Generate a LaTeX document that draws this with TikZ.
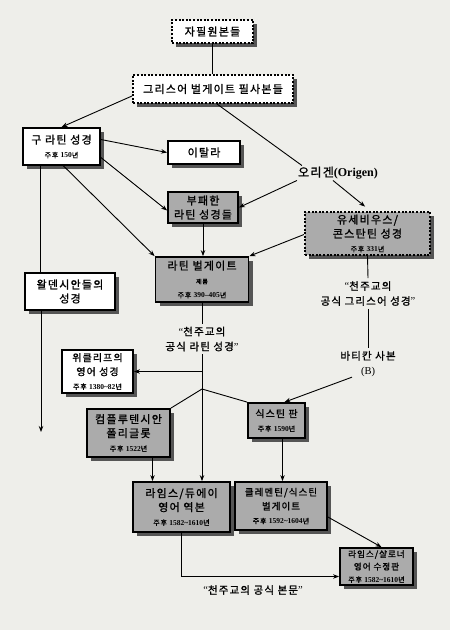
\documentclass[tikz,border=0pt]{standalone}
\usepackage{fontspec}
\setmainfont{Liberation Serif}
\newfontfamily\kr[LetterSpace=11,FakeBold=1.2]{Noto Sans CJK KR}
\usepackage{tikz}
\usetikzlibrary{arrows.meta,shadows,calc}
\definecolor{paper}{HTML}{EEEEEA}
\definecolor{boxg}{HTML}{ABABAB}
\definecolor{shd}{HTML}{555555}
\newcommand{\yr}[1]{{\fontsize{7}{8}\selectfont 주후 {\rmfamily\bfseries\fontsize{7.5}{8}\selectfont #1}년}}
\newcommand{\lqt}{{\rmfamily “}}
\newcommand{\rqt}{{\rmfamily ”}}

\begin{document}
\begin{tikzpicture}[x=1pt,y=-1pt,
  font=\kr\fontsize{11}{14}\selectfont,
  bx/.style={draw,line width=1.8pt,align=center,inner sep=1pt,
    drop shadow={shadow xshift=4pt,shadow yshift=-4pt,fill=shd,opacity=1}},
  wbox/.style={bx,fill=white},
  gbox/.style={bx,fill=boxg},
  dwbox/.style={wbox,dash pattern=on 2pt off 1.6pt,line width=2pt},
  dgbox/.style={gbox,dash pattern=on 2pt off 1.6pt,line width=2pt},
  qtext/.style={align=center,inner sep=3pt,font=\kr\fontsize{10.5}{15}\selectfont},
  ln/.style={line width=0.9pt},
  arr/.style={ln,-{Stealth[length=6pt,width=4.5pt]}}]
\fill[paper] (0,0) rectangle (450,630);
\useasboundingbox (0,0) rectangle (450,630);
% sources
\node[dwbox,minimum width=81pt,minimum height=23pt] (autog) at (212.5,31.5) {자필원본들};
\node[dwbox,minimum width=160pt,minimum height=28pt] (grcopy) at (213,89) {그리스어 벌게이트 필사본들};
\node[wbox,minimum width=77pt,minimum height=37pt] (oldlat) at (61.5,146.5) {구 라틴 성경\\\yr{150}};
\node[wbox,minimum width=72pt,minimum height=23pt] (itala) at (204,152.5) {이탈라};
\node[inner sep=1pt,font=\kr\fontsize{12}{14}\selectfont] (origen) at (338,173) {오리겐{\rmfamily\bfseries(Origen)}};
\node[gbox,minimum width=70pt,minimum height=31pt] (corrupt) at (203,207.5) {부패한\\라틴 성경들};
\node[dgbox,minimum width=125pt,minimum height=43pt] (euseb) at (367.5,233.5) {유세비우스/\\콘스탄틴 성경\\\yr{331}};
\node[gbox,minimum width=93pt,minimum height=45pt] (latvul) at (202,279.5) {라틴 벌게이트\\{\fontsize{6}{7}\selectfont 제롬}\\\yr{390–405}};
\node[wbox,minimum width=90pt,minimum height=37pt] (walden) at (70,291.5) {왈덴시안들의\\성경};
% official texts
\node[qtext] (catlat) at (202,339) {\lqt 천주교의\\공식 라틴 성경\rqt};
\node[qtext] (catgr) at (368,293.5) {\lqt 천주교의\\공식 그리스어 성경\rqt};
\node[qtext] (vatican) at (368,364) {바티칸 사본\\{\rmfamily (B)}};
% later editions
\node[wbox,minimum width=71pt,minimum height=43pt,font=\kr\fontsize{10}{14}\selectfont] (wycl) at (97.5,371.5) {위클리프의\\영어 성경\\\yr{1380\textasciitilde82}};
\node[gbox,minimum width=57pt,minimum height=35pt,font=\kr\fontsize{10}{14}\selectfont] (sixt) at (276.5,420.5) {식스틴 판\\\yr{1590}};
\node[gbox,minimum width=83pt,minimum height=48pt] (complut) at (128.5,433) {컴플루텐시안\\폴리글롯\\\yr{1522}};
\node[gbox,minimum width=97pt,minimum height=50pt] (rheims) at (181.5,507) {라임스/듀에이\\영어 역본\\\yr{1582\textasciitilde1610}};
\node[gbox,minimum width=92pt,minimum height=48pt,font=\kr\fontsize{9.5}{14}\selectfont] (clem) at (281,506) {클레멘틴/식스틴\\벌게이트\\\yr{1592\textasciitilde1604}};
\node[gbox,minimum width=73pt,minimum height=37pt,font=\kr\fontsize{8.6}{12.5}\selectfont] (chall) at (376.5,566.5) {라임스/샬로너\\영어 수정판\\\yr{1582\textasciitilde1610}};
\node[qtext] (offtxt) at (253,590) {\lqt 천주교의 공식 본문\rqt};
% connectors
\draw[ln] (autog.south) -- (autog.south |- grcopy.north);
\draw[arr] ([yshift=-7pt]grcopy.west) -- (oldlat.north);
\draw[ln] ([xshift=4pt]grcopy.south) -- ([xshift=5pt]origen.north west);
\draw[arr] ([yshift=7pt]oldlat.east) -- (itala.west);
\draw[arr] ([yshift=-11pt]oldlat.east) -- ([yshift=-3pt]corrupt.west);
\draw[arr] (origen.south west) -- (corrupt.east);
\draw[arr,shorten >=7pt] ([xshift=-5pt]origen.south) -- ([xshift=3pt]euseb.north);
\draw[arr] (corrupt.south) -- (corrupt.south |- latvul.north);
\draw[arr] ([xshift=2pt]oldlat.south) -- (latvul.north west);
\draw[arr] ([yshift=-1pt]euseb.west) -- (latvul.north east);
\draw[ln] ([xshift=-21pt]oldlat.south) -- ([xshift=-21pt]oldlat.south |- walden.north);
\coordinate (waldend) at (41,432);
\draw[arr] (walden.south -| waldend) -- (waldend);
\draw[ln] (latvul.south) -- (catlat.north);
\coordinate (fork) at (202,389);
\draw[ln] (catlat.south) -- (fork);
\draw[arr] (catlat.south |- wycl.east) -- (wycl.east);
\draw[ln] (fork) -- (complut.north east);
\draw[ln] (fork) -- (sixt.north west);
\draw[arr] (fork) -- (fork |- rheims.north);
\draw[ln] (euseb.south) -- (catgr.north);
\draw[ln] (catgr.south) -- (vatican.north);
\draw[arr] ([xshift=-16pt,yshift=3pt]vatican.south) -- ([xshift=8pt]sixt.north);
\draw[arr] ([xshift=24pt]complut.south) -- ([xshift=24pt]complut.south |- rheims.north);
\draw[arr] ([xshift=6pt]sixt.south) -- ([xshift=6pt]sixt.south |- clem.north);
\draw[arr] ([yshift=-11pt]clem.east) -- ([xshift=5pt]chall.north);
\draw[arr] (rheims.south) |- ([yshift=-10pt]chall.west);
\end{tikzpicture}
\end{document}
